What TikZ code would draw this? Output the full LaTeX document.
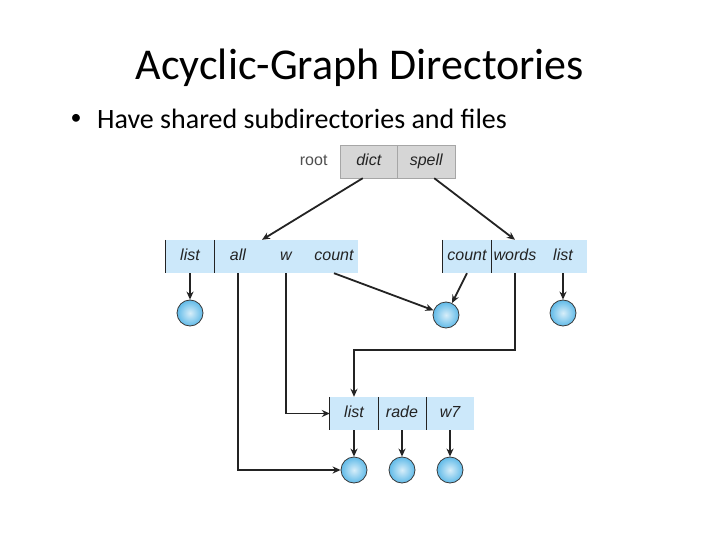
\documentclass[tikz,border=0pt]{standalone}
\usepackage{fontspec}
\setmainfont{Carlito}
\newfontfamily\figfont{Liberation Sans}
\usepackage{tikz}
\usetikzlibrary{arrows.meta, positioning, calc}
\definecolor{dirBlue}{RGB}{204,232,250}
\definecolor{rootGray}{RGB}{214,214,214}
\definecolor{fileBlue}{RGB}{96,186,232}
\definecolor{lineDark}{RGB}{35,35,35}
\tikzset{
  dir/cell/.style={rectangle, fill=dirBlue, draw=none,
    minimum width=48pt, minimum height=33pt, inner sep=0pt,
    text height=11pt, text depth=3pt,
    font=\figfont\itshape\fontsize{16}{18}\selectfont, text=lineDark},
  dir/root/.style={rectangle, fill=rootGray, draw=gray!70,
    minimum width=57.5pt, minimum height=33pt, inner sep=0pt,
    text height=11pt, text depth=3pt,
    font=\figfont\itshape\fontsize{16}{18}\selectfont, text=lineDark},
  dir/file/.style={circle, draw=lineDark!90, line width=0.8pt,
    minimum size=26pt, inner sep=0pt,
    shading=radial, inner color=fileBlue!25, outer color=fileBlue},
  dir/sep/.style={draw=lineDark, line width=1pt},
  dir/arr/.style={-{Stealth[length=8pt,width=7pt]}, line width=1.8pt,
    draw=lineDark}
}

\begin{document}
\begin{tikzpicture}[x=1pt,y=-1pt]
  \path[fill=white, use as bounding box] (0,0) rectangle (720,540);

  % slide text
  \node (title) at (360,68) {\fontsize{44}{50}\selectfont Acyclic-Graph Directories};
  \node[anchor=west, inner sep=0pt] (bullet) at (97,119)
    {\fontsize{28}{32}\selectfont Have shared subdirectories and files};
  \node[anchor=center, inner sep=0pt] (dot) at (76,119)
    {\fontsize{22}{26}\selectfont\textbullet};

  % root directory
  \node[dir/root] (dict) at (368.75,161.5) {dict};
  \node[dir/root] (spell) at (426.25,161.5) {spell};
  \node[font=\figfont\fontsize{16}{18}\selectfont, text=lineDark!80, anchor=east,
    text height=11pt, text depth=3pt] (root) at (331,161.5) {root};

  % left directory
  \node[dir/cell] (lList) at (190,256.5) {list};
  \node[dir/cell] (lAll) at (238,256.5) {all};
  \node[dir/cell] (lW) at (286,256.5) {w};
  \node[dir/cell] (lCount) at (334,256.5) {count};
  \draw[dir/sep] (lList.north west) -- (lList.south west);
  \draw[dir/sep] (lList.north east) -- (lList.south east);

  % right directory
  \node[dir/cell] (rCount) at (467,256.5) {count};
  \node[dir/cell] (rWords) at (515,256.5) {words};
  \node[dir/cell] (rList) at (563,256.5) {list};
  \draw[dir/sep] (rCount.north west) -- (rCount.south west);
  \draw[dir/sep] (rCount.north east) -- (rCount.south east);

  % shared directory
  \node[dir/cell] (bList) at (354,413.5) {list};
  \node[dir/cell] (bRade) at (402,413.5) {rade};
  \node[dir/cell] (bW7) at (450,413.5) {w7};
  \draw[dir/sep] (bList.north west) -- (bList.south west);
  \draw[dir/sep] (bList.north east) -- (bList.south east);
  \draw[dir/sep] (bRade.north east) -- (bRade.south east);

  % files
  \node[dir/file] (lFile) at (190,313) {};
  \node[dir/file] (shared) at (446,315) {};
  \node[dir/file] (rFile) at (563,313) {};
  \node[dir/file] (bFile1) at (354,470) {};
  \node[dir/file] (bFile2) at (402,470) {};
  \node[dir/file] (bFile3) at (450,470) {};

  % links
  \coordinate (turn) at (0,350);
  \draw[dir/arr] ($(dict.south)+(-6,0)$) -- ($(lAll.north)!0.5!(lW.north)$);
  \draw[dir/arr] ($(spell.south)+(8,0)$) -- (rWords.north);
  \draw[dir/arr] (lList.south) -- (lFile);
  \draw[dir/arr] (lCount.south) -- (shared);
  \draw[dir/arr] (rCount.south) -- (shared);
  \draw[dir/arr] (rList.south) -- (rFile);
  \draw[dir/arr] (rWords.south) -- (rWords.south |- turn) -| (bList.north);
  \draw[dir/arr] (lW.south) |- (bList.west);
  \draw[dir/arr] (lAll.south) |- (bFile1.west);
  \draw[dir/arr] (bList.south) -- (bFile1);
  \draw[dir/arr] (bRade.south) -- (bFile2);
  \draw[dir/arr] (bW7.south) -- (bFile3);
\end{tikzpicture}
\end{document}
